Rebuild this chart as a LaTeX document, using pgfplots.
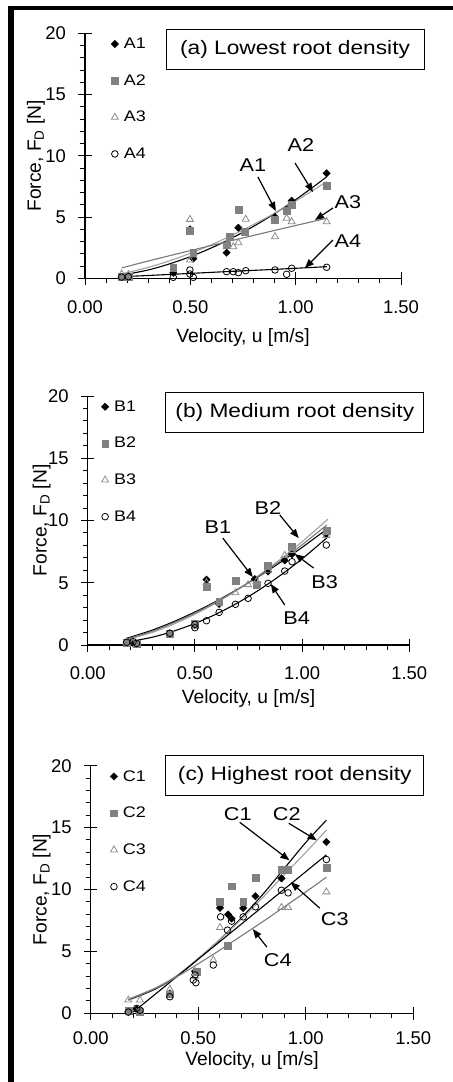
\documentclass[border=0pt]{standalone}
\usepackage{fontspec}
\setmainfont{Liberation Sans}
\newfontfamily\widefont[FakeStretch=1.17]{Liberation Sans}
\usepackage{pgfplots}
\pgfplotsset{compat=1.18}
\usetikzlibrary{arrows.meta}

\definecolor{sqfill}{gray}{0.50}
\definecolor{triedge}{gray}{0.55}
\definecolor{lightline}{gray}{0.63}
\definecolor{midline}{gray}{0.47}

\newcommand{\tickfont}{\fontsize{18.5}{22}\selectfont}
\newcommand{\labfont}{\fontsize{19.3}{23}\selectfont}
\newcommand{\legfont}{\widefont\fontsize{15.4}{18}\selectfont}
\newcommand{\notefont}{\widefont\fontsize{18.6}{22}\selectfont}
\newcommand{\titlefont}{\widefont\fontsize{19.5}{23}\selectfont}

\tikzset{
  note/.style={font=\notefont, inner sep=0pt},
  pointer/.style={-{Triangle[length=9bp,width=7bp]}, line width=1.2bp},
  titlebox/.style={draw, line width=0.9bp, minimum width=258bp, minimum height=40bp, inner sep=0pt, font=\titlefont},
}

\pgfplotsset{
  panel/.style={
    scale only axis, clip=false,
    axis lines=left,
    axis line style={-, line width=1.2bp, black},
    xmin=0, xmax=1.5, ymin=0, ymax=20,
    xtick={0,0.5,1,1.5}, ytick={0,5,10,15,20},
    minor x tick num=4, minor y tick num=4,
    tick align=outside,
    major tick length=6.5bp, minor tick length=5bp,
    % the major ticks also reach inside the axis
    extra x ticks={0,0.5,1,1.5}, extra x tick labels={},
    extra y ticks={0,5,10,15,20}, extra y tick labels={},
    extra tick style={tick align=inside},
    tick style={black, line width=1bp},
    /pgf/number format/assume math mode=true,
    xticklabel style={/pgf/number format/.cd, fixed, fixed zerofill, precision=2, /tikz/.cd, yshift=-12bp},
    yticklabel style={xshift=-9bp},
    ticklabel style={font=\tickfont},
    xlabel={Velocity, u [m/s]},
    ylabel={Force, F\textsubscript{D} [N]},
    label style={font=\labfont},
    legend style={draw=none, fill=none, font=\legfont, anchor=north west,
      inner sep=0pt, row sep=20.5bp, nodes={inner sep=2bp}},
    legend cell align=left,
    legend image code/.code={\path[draw=none, fill=none] (-5bp,-0.1bp) rectangle (7bp,0.1bp);
      \draw[mark repeat=2,mark phase=2,##1] plot coordinates {(-1bp,0bp)(0bp,0bp)(1bp,0bp)};},
  },
  s1/.style={only marks, black, mark=square*, mark size=2.6bp, mark options={rotate=45, fill=black, draw=black}},
  s2/.style={only marks, sqfill, mark=square*, mark size=3.4bp, mark options={fill=sqfill, draw=sqfill}},
  s3/.style={only marks, triedge, mark=triangle, mark size=4bp, mark options={draw=triedge, line width=0.8bp}},
  s4/.style={only marks, black, mark=o, mark size=3.3bp, mark options={draw=black, line width=0.8bp}},
  trend/.style={no markers, smooth, line width=1.1bp, forget plot},
}

\begin{document}
\begin{tikzpicture}
\useasboundingbox (0bp,0bp) rectangle (453bp,-1082bp);
% frame
\fill[black] (8.3bp,-5.7bp) rectangle (453bp,-10bp);
\fill[black] (8.3bp,-5.7bp) rectangle (14bp,-1082bp);

% ---------------- (a) ----------------
\begin{axis}[panel, at={(85bp,-278.3bp)}, anchor=south west,
  width=316bp, height=245bp,
  xlabel style={at={(axis description cs:0.5,0)}, anchor=base, yshift=-64.4bp},
  ylabel style={at={(axis description cs:-0.140,0.5)}, anchor=base},
  legend style={at={(axis description cs:0.078,0.99)}}]
\addplot[s1] coordinates {(0.174,0.10)(0.206,0.15)(0.419,0.45)(0.498,4.00)(0.514,1.60)(0.672,2.09)(0.728,4.13)(0.902,5.00)(0.957,5.60)(0.981,6.34)(1.147,8.57)};
\addplot[s2] coordinates {(0.174,0.10)(0.206,0.15)(0.419,0.87)(0.498,3.90)(0.514,2.10)(0.672,2.70)(0.688,3.40)(0.728,5.58)(0.759,3.80)(0.902,4.81)(0.957,5.49)(0.981,6.04)(1.147,7.53)};
\addplot[s3] coordinates {(0.174,0.35)(0.206,0.30)(0.498,4.81)(0.498,1.49)(0.514,1.90)(0.672,2.64)(0.704,2.58)(0.728,2.91)(0.763,4.82)(0.902,3.40)(0.957,4.90)(0.981,4.62)(1.147,4.62)};
\addplot[s4] coordinates {(0.174,0.10)(0.206,0.13)(0.419,0.08)(0.498,0.68)(0.498,0.35)(0.514,0.08)(0.672,0.54)(0.704,0.54)(0.728,0.46)(0.763,0.62)(0.902,0.68)(0.957,0.33)(0.981,0.82)(1.147,0.90)};
\legend{A1,A2,A3,A4}
% fitted trend lines
\addplot[trend, black] coordinates {(0.174,0.25)(0.3,0.68)(0.4,1.17)(0.5,1.77)(0.6,2.48)(0.7,3.31)(0.8,4.24)(0.9,5.28)(1.0,6.42)(1.1,7.67)(1.148,8.30)};
\addplot[trend, lightline] coordinates {(0.174,0.36)(0.3,0.89)(0.4,1.42)(0.5,2.04)(0.6,2.74)(0.7,3.53)(0.8,4.39)(0.9,5.31)(1.0,6.31)(1.1,7.37)(1.148,7.90)};
\addplot[trend, midline] coordinates {(0.174,0.85)(0.3,1.41)(0.4,1.84)(0.5,2.26)(0.6,2.68)(0.7,3.09)(0.8,3.50)(0.9,3.91)(1.0,4.31)(1.1,4.71)(1.148,4.90)};
\addplot[trend, black] coordinates {(0.174,0.13)(0.3,0.23)(0.5,0.40)(0.7,0.57)(0.9,0.73)(1.148,0.95)};
% labels
\node[titlebox] at (axis cs:0.997,18.72) {(a) Lowest root density};
\node[note] at (axis cs:0.797,9.25) {A1};
\draw[pointer] (axis cs:0.821,8.27) -- (axis cs:0.906,5.49);
\node[note] at (axis cs:1.025,10.88) {A2};
\draw[pointer] (axis cs:0.997,9.41) -- (axis cs:1.082,7.04);
\node[note] at (axis cs:1.248,6.23) {A3};
\draw[pointer] (axis cs:1.177,5.74) -- (axis cs:1.092,4.76);
\node[note] at (axis cs:1.248,3.04) {A4};
\draw[pointer] (axis cs:1.177,3.13) -- (axis cs:1.044,0.84);
\end{axis}

% ---------------- (b) ----------------
\begin{axis}[panel, at={(87.7bp,-645bp)}, anchor=south west,
  width=321.6bp, height=249bp,
  xlabel style={at={(axis description cs:0.5,0)}, anchor=base, yshift=-58.3bp},
  ylabel style={at={(axis description cs:-0.128,0.5)}, anchor=base},
  legend style={at={(axis description cs:0.038,0.99)}}]
\addplot[s1] coordinates {(0.182,0.20)(0.212,0.15)(0.383,0.95)(0.500,1.60)(0.554,5.25)(0.613,3.30)(0.779,5.30)(0.841,5.90)(0.919,6.80)(0.953,7.30)(1.113,8.90)};
\addplot[s2] coordinates {(0.182,0.20)(0.228,0.10)(0.383,0.90)(0.500,1.70)(0.554,4.70)(0.613,3.45)(0.689,5.15)(0.787,4.85)(0.841,6.40)(0.953,7.90)(1.113,9.20)};
\addplot[s3] coordinates {(0.182,0.25)(0.212,0.20)(0.383,0.85)(0.500,1.50)(0.554,5.00)(0.689,4.20)(0.748,4.85)(0.787,5.10)(0.841,6.00)(0.919,7.20)(0.953,7.60)(1.113,8.80)};
\addplot[s4] coordinates {(0.182,0.22)(0.212,0.27)(0.228,0.13)(0.383,0.94)(0.500,1.39)(0.500,1.66)(0.554,1.95)(0.613,2.62)(0.689,3.27)(0.748,3.75)(0.841,4.95)(0.919,5.94)(0.953,6.69)(1.113,8.03)};
\legend{B1,B2,B3,B4}
\addplot[trend, black] coordinates {(0.182,0.54)(0.3,1.19)(0.4,1.87)(0.5,2.65)(0.6,3.52)(0.7,4.49)(0.8,5.53)(0.9,6.65)(1.0,7.84)(1.115,9.30)};
\addplot[trend, lightline] coordinates {(0.182,0.42)(0.3,1.01)(0.4,1.67)(0.5,2.47)(0.6,3.39)(0.7,4.45)(0.8,5.62)(0.9,6.90)(1.0,8.30)(1.12,10.10)};
\addplot[trend, midline] coordinates {(0.182,0.48)(0.3,1.10)(0.4,1.78)(0.5,2.56)(0.6,3.47)(0.7,4.47)(0.8,5.57)(0.9,6.77)(1.0,8.05)(1.115,9.64)};
\addplot[trend, black] coordinates {(0.182,0.23)(0.3,0.62)(0.4,1.11)(0.5,1.73)(0.6,2.49)(0.7,3.39)(0.8,4.43)(0.9,5.61)(1.0,6.92)(1.115,8.60)};
\node[titlebox] at (axis cs:0.966,18.71) {(b) Medium root density};
\node[note] at (axis cs:0.607,9.48) {B1};
\draw[pointer] (axis cs:0.630,8.59) -- (axis cs:0.770,5.46);
\node[note] at (axis cs:0.840,11.0) {B2};
\draw[pointer] (axis cs:0.896,10.44) -- (axis cs:0.984,8.59);
\node[note] at (axis cs:1.105,5.06) {B3};
\draw[pointer] (axis cs:1.054,6.18) -- (axis cs:0.966,7.31);
\node[note] at (axis cs:0.975,2.17) {B4};
\draw[pointer] (axis cs:0.919,3.21) -- (axis cs:0.854,4.90);
\end{axis}

% ---------------- (c) ----------------
\begin{axis}[panel, at={(90.7bp,-1013.3bp)}, anchor=south west,
  width=322.6bp, height=247.6bp,
  xticklabel style={yshift=3.5bp},
  xlabel style={at={(axis description cs:0.5,0)}, anchor=base, yshift=-52bp},
  ylabel style={at={(axis description cs:-0.137,0.5)}, anchor=base},
  legend style={at={(axis description cs:0.056,0.99)}}]
\addplot[s1] coordinates {(0.175,0.10)(0.214,0.32)(0.368,1.60)(0.485,3.40)(0.601,8.52)(0.639,7.98)(0.655,7.65)(0.709,8.50)(0.766,9.46)(0.887,10.90)(0.918,11.60)(1.096,13.84)};
\addplot[s2] coordinates {(0.175,0.19)(0.229,0.15)(0.368,1.55)(0.492,3.35)(0.601,9.00)(0.636,5.43)(0.655,10.27)(0.709,9.00)(0.766,10.97)(0.887,11.61)(0.918,11.61)(1.096,11.74)};
\addplot[s3] coordinates {(0.175,1.07)(0.229,1.07)(0.368,1.94)(0.485,3.00)(0.570,4.30)(0.601,6.93)(0.887,8.55)(0.918,8.55)(1.096,9.81)};
\addplot[s4] coordinates {(0.175,0.10)(0.214,0.40)(0.229,0.25)(0.368,1.34)(0.477,2.69)(0.485,3.10)(0.489,2.47)(0.570,3.90)(0.604,7.79)(0.636,6.72)(0.655,7.44)(0.709,7.79)(0.766,8.60)(0.887,9.94)(0.918,9.73)(1.096,12.42)};
\legend{C1,C2,C3,C4}
\addplot[trend, black] coordinates {(0.175,1.07)(0.3,1.95)(0.4,3.00)(0.5,4.40)(0.6,5.95)(0.7,7.70)(0.8,9.60)(0.9,11.70)(1.0,13.80)(1.096,15.60)};
\addplot[trend, lightline] coordinates {(0.175,1.15)(0.3,2.05)(0.4,3.05)(0.5,4.45)(0.6,5.95)(0.7,7.60)(0.8,9.35)(0.9,11.20)(1.0,13.00)(1.096,14.80)};
\addplot[trend, black] coordinates {(0.198,0.10)(1.096,12.80)};
\addplot[trend, midline] coordinates {(0.175,1.10)(0.3,2.00)(0.4,2.95)(0.5,4.00)(0.6,5.10)(0.7,6.25)(0.8,7.40)(0.9,8.60)(1.0,9.80)(1.096,11.00)};
\node[titlebox] at (axis cs:0.949,19.18) {(c) Highest root density};
\node[note] at (axis cs:0.684,16.07) {C1};
\draw[pointer] (axis cs:0.693,15.43) -- (axis cs:0.924,12.36);
\node[note] at (axis cs:0.912,16.07) {C2};
\draw[pointer] (axis cs:0.921,15.35) -- (axis cs:1.051,13.98);
\node[note] at (axis cs:1.135,7.61) {C3};
\draw[pointer] (axis cs:1.065,8.49) -- (axis cs:0.930,10.59);
\node[note] at (axis cs:0.870,4.30) {C4};
\draw[pointer] (axis cs:0.819,5.35) -- (axis cs:0.754,6.80);
\end{axis}
\end{tikzpicture}
\end{document}
